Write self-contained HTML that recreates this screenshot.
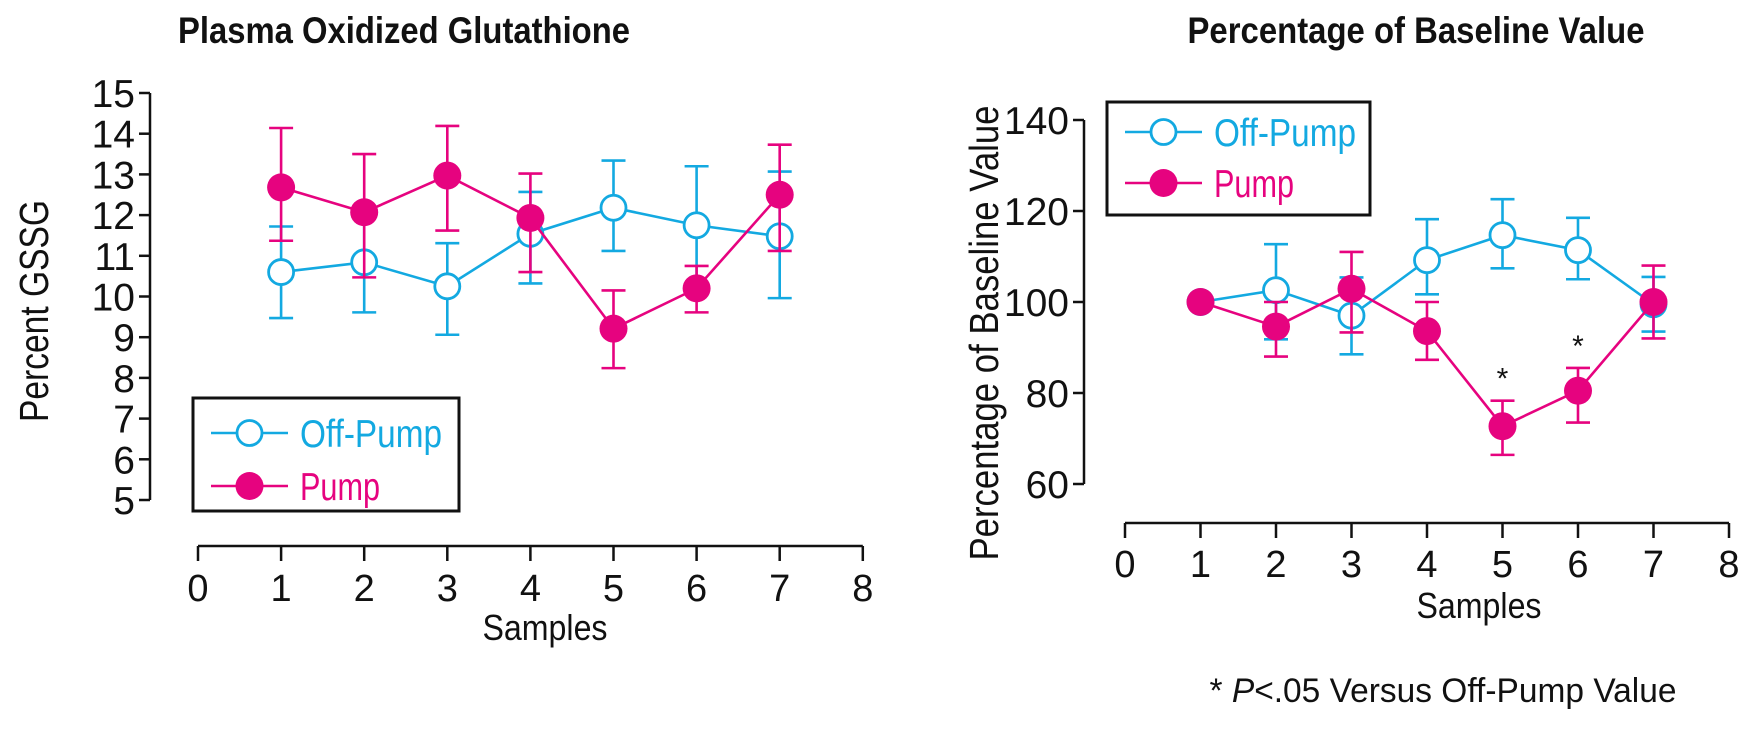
<!DOCTYPE html>
<html><head><meta charset="utf-8">
<style>
html,body{margin:0;padding:0;background:#fff;}
svg{display:block;}
text{font-family:"Liberation Sans Narrow","Liberation Sans",sans-serif;fill:#111;}
</style></head>
<body>
<svg id="fig" width="1748" height="730" viewBox="0 0 1748 730" xmlns="http://www.w3.org/2000/svg">
<text x="404" y="43" text-anchor="middle" font-size="37" font-weight="bold" textLength="452" lengthAdjust="spacingAndGlyphs">Plasma Oxidized Glutathione</text>
<text x="1416" y="43" text-anchor="middle" font-size="37" font-weight="bold" textLength="457" lengthAdjust="spacingAndGlyphs">Percentage of Baseline Value</text>
<text transform="translate(48,311) rotate(-90)" text-anchor="middle" font-size="41" textLength="222" lengthAdjust="spacingAndGlyphs">Percent GSSG</text>
<text transform="translate(998,333) rotate(-90)" text-anchor="middle" font-size="41" textLength="455" lengthAdjust="spacingAndGlyphs">Percentage of Baseline Value</text>
<text x="545" y="640" text-anchor="middle" font-size="36" textLength="125" lengthAdjust="spacingAndGlyphs">Samples</text>
<text x="1479" y="618" text-anchor="middle" font-size="36" textLength="125" lengthAdjust="spacingAndGlyphs">Samples</text>
<text x="1443" y="702" text-anchor="middle" font-size="34" textLength="467" lengthAdjust="spacingAndGlyphs">* <tspan font-style="italic">P</tspan>&lt;.05 Versus Off-Pump Value</text>
<g id="left"></g>
<g id="right"></g>
</svg>
<script>
const NS="http://www.w3.org/2000/svg";
const CYAN="#13a9e1", MAG="#e6037f";
// Left chart data
const samples=[1,2,3,4,5,6,7];
const leftXTicks=[0,1,2,3,4,5,6,7,8];
const leftYTicks=[5,6,7,8,9,10,11,12,13,14,15];
const leftOffMean=[10.6,10.84,10.25,11.54,12.18,11.75,11.48];
const leftOffHi=[11.72,12.07,11.31,12.57,13.34,13.2,13.07];
const leftOffLo=[9.47,9.61,9.06,10.32,11.12,10.22,9.96];
const leftPumpMean=[12.68,12.07,12.97,11.93,9.21,10.2,12.5];
const leftPumpHi=[14.14,13.5,14.19,13.02,10.15,10.75,13.73];
const leftPumpLo=[11.37,10.47,11.62,10.6,8.24,9.61,11.12];
// Right chart data
const rightXTicks=[0,1,2,3,4,5,6,7,8];
const rightYTicks=[60,80,100,120,140];
const rightOffMean=[100,102.6,97,109.2,114.7,111.4,99.5];
const rightOffHi=[100,112.7,105.4,118.2,122.6,118.5,105.5];
const rightOffLo=[100,91.8,88.5,101.7,107.4,105,93.5];
const rightPumpMean=[100,94.6,102.9,93.6,72.7,80.5,100];
const rightPumpHi=[100,100,111,100,78.3,85.5,108];
const rightPumpLo=[100,88,93.3,87.3,66.4,73.5,92];
const rightSig=[false,false,false,false,true,true,false];

function mk(parent,tag,attrs){const e=document.createElementNS(NS,tag);for(const k in attrs)e.setAttribute(k,attrs[k]);parent.appendChild(e);return e;}

function drawChart(g,cfg){
  const sx=v=>cfg.x0+(v-cfg.xmin)*cfg.xs;
  const sy=v=>cfg.yTop+(cfg.ymax-v)*cfg.ys;
  let ax=mk(g,'line',{x1:cfg.yAxisX,x2:cfg.yAxisX,y1:sy(cfg.ymax),y2:sy(cfg.ymin),stroke:'#111','stroke-width':2.5});
  
  
  cfg.yTicks.forEach(t=>{
    const tk=mk(g,'line',{x1:cfg.yAxisX-11,x2:cfg.yAxisX,y1:sy(t),y2:sy(t),stroke:'#111','stroke-width':2.5});
    
    
    const tl=mk(g,'text',{x:cfg.yAxisX-15,y:sy(t)+14,'text-anchor':'end','font-size':39});
    tl.textContent=t;
    
    
  });
  const xa=mk(g,'line',{x1:sx(cfg.xTicks[0]),x2:sx(cfg.xTicks[cfg.xTicks.length-1]),y1:cfg.xAxisY,y2:cfg.xAxisY,stroke:'#111','stroke-width':2.5});
  
  
  cfg.xTicks.forEach(t=>{
    const tk=mk(g,'line',{x1:sx(t),x2:sx(t),y1:cfg.xAxisY,y2:cfg.xAxisY+15,stroke:'#111','stroke-width':2.5});
    
    
    const tl=mk(g,'text',{x:sx(t),y:cfg.xLabelY,'text-anchor':'middle','font-size':38});
    tl.textContent=t;
    
    
  });
  const series=[
    {name:'off-pump',mean:cfg.off,hi:cfg.offHi,lo:cfg.offLo,color:CYAN,filled:false},
    {name:'pump',mean:cfg.pump,hi:cfg.pumpHi,lo:cfg.pumpLo,color:MAG,filled:true}
  ];
  series.forEach(s=>{
    const sg=mk(g,'g',{});
    
    
    samples.forEach((x,i)=>{
      const X=sx(x);
      const eb=mk(sg,'path',{d:`M${X},${sy(s.hi[i])}V${sy(s.lo[i])}M${X-12},${sy(s.hi[i])}h24M${X-12},${sy(s.lo[i])}h24`,stroke:s.color,'stroke-width':2.6,fill:'none'});
      
      
    });
    const pl=mk(sg,'polyline',{points:samples.map((x,i)=>sx(x)+','+sy(s.mean[i])).join(' '),stroke:s.color,'stroke-width':2.6,fill:'none'});
    
    
    samples.forEach((x,i)=>{
      const c=mk(sg,'circle',{cx:sx(x),cy:sy(s.mean[i]),r:s.filled?14:12.5,fill:s.filled?s.color:'#fff',stroke:s.color,'stroke-width':s.filled?0:2.8});
      
      
    });
  });
  if(cfg.sig){
    samples.forEach((x,i)=>{
      if(!cfg.sig[i])return;
      const a=mk(g,'text',{x:sx(x),y:sy(cfg.pumpHi[i])-12,'text-anchor':'middle','font-size':30});
      a.textContent='*';
      
      
    });
  }
  const L=cfg.legend;
  const lg=mk(g,'g',{});
  
  
  mk(lg,'rect',{x:L.x,y:L.y,width:L.w,height:L.h,fill:'#fff',stroke:'#111','stroke-width':3});
  [['Off-Pump',CYAN,false,L.r1,142],['Pump',MAG,true,L.r2,80]].forEach(([lab,col,fil,ry,tw])=>{
    const e=mk(lg,'g',{});
    
    
    mk(e,'line',{x1:L.lx1,x2:L.lx2,y1:ry,y2:ry,stroke:col,'stroke-width':2.6});
    mk(e,'circle',{cx:(L.lx1+L.lx2)/2,cy:ry,r:fil?14:12.5,fill:fil?col:'#fff',stroke:col,'stroke-width':fil?0:2.8});
    const t=mk(e,'text',{x:L.tx,y:ry+14,'font-size':39,textLength:tw,lengthAdjust:'spacingAndGlyphs'});
    t.style.fill=col;
    t.textContent=lab;
  });
}

drawChart(document.getElementById('left'),{
  xmin:0,x0:198,xs:83.1,ymin:5,ymax:15,yTop:93,ys:40.7,yAxisX:150,xAxisY:546,xLabelY:601,
  xTicks:leftXTicks,yTicks:leftYTicks,
  off:leftOffMean,offHi:leftOffHi,offLo:leftOffLo,pump:leftPumpMean,pumpHi:leftPumpHi,pumpLo:leftPumpLo,
  legend:{x:193,y:398,w:266,h:113,r1:433,r2:486,lx1:211,lx2:288,tx:300}
});
drawChart(document.getElementById('right'),{
  xmin:0,x0:1125,xs:75.5,ymin:60,ymax:140,yTop:120,ys:4.55,yAxisX:1084,xAxisY:523,xLabelY:577,
  xTicks:rightXTicks,yTicks:rightYTicks,
  off:rightOffMean,offHi:rightOffHi,offLo:rightOffLo,pump:rightPumpMean,pumpHi:rightPumpHi,pumpLo:rightPumpLo,
  sig:rightSig,
  legend:{x:1107,y:102,w:263,h:113,r1:132,r2:183,lx1:1125,lx2:1202,tx:1214}
});
</script>
</body></html>
